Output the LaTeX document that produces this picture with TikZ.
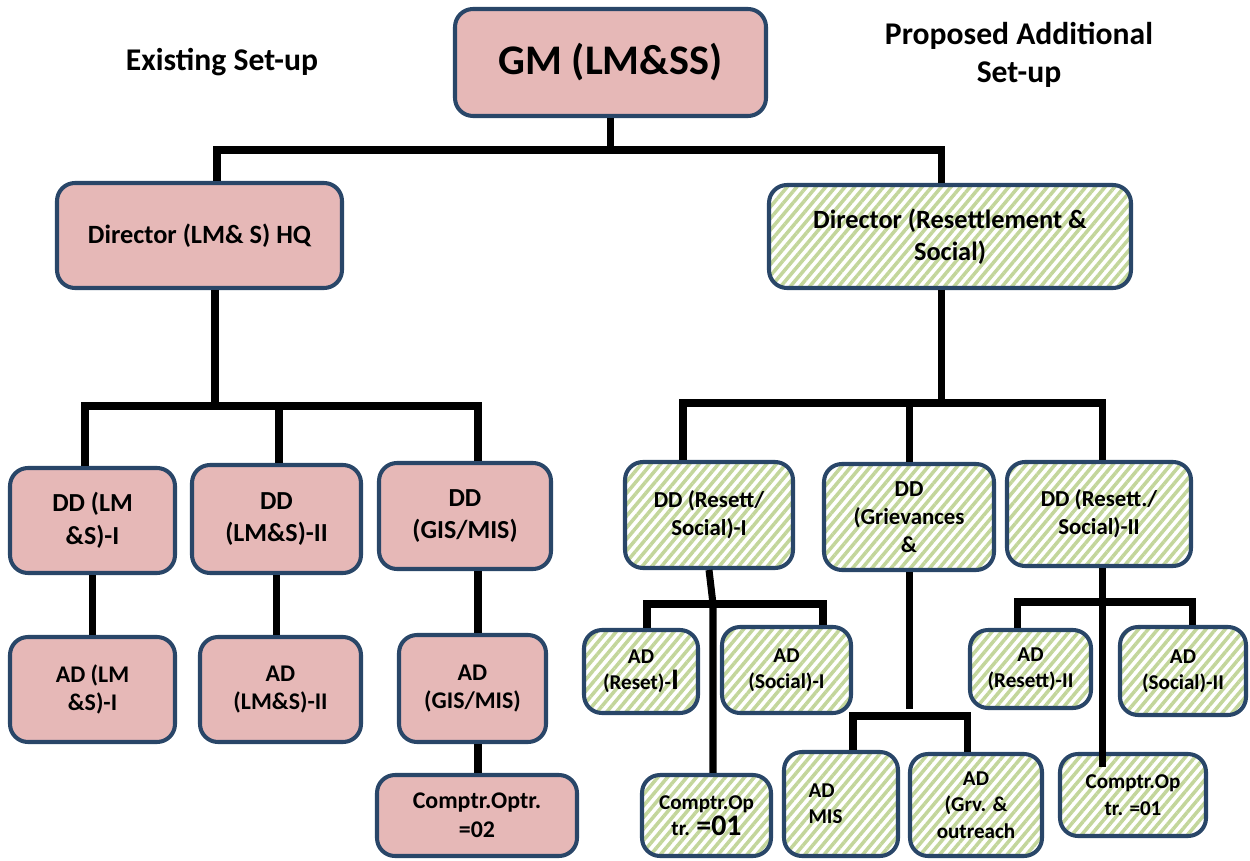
\documentclass[tikz,border=0pt]{standalone}
\usepackage{fontspec}
\setmainfont{Carlito}
\usetikzlibrary{patterns.meta}
\definecolor{boxblue}{HTML}{294668}
\definecolor{oldpink}{HTML}{E6B8B7}
\definecolor{stripegreen}{HTML}{C3D69B}
\tikzset{
  box/.style={draw=boxblue, line width=2.3pt, rounded corners=0.36cm, align=center, inner sep=1pt},
  old/.style={box, fill=oldpink},
  new/.style={box, preaction={fill=white}, pattern={Lines[angle=50,distance=4.2pt,line width=2pt]}, pattern color=stripegreen},
  sz/.style 2 args={minimum width=#1*0.02cm, minimum height=#2*0.02cm},
  conn/.style={line width=4pt},
  fgm/.style={font=\fontsize{24}{29}\selectfont\bfseries},
  fhead/.style={font=\fontsize{18}{21.5}\selectfont\bfseries, align=center},
  fdir/.style={font=\fontsize{15}{18}\selectfont\bfseries},
  fddl/.style={font=\fontsize{14.8}{18.7}\selectfont\bfseries},
  fadl/.style={font=\fontsize{13.6}{16.4}\selectfont\bfseries},
  fddr/.style={font=\fontsize{13}{16}\selectfont\bfseries},
  fadr/.style={font=\fontsize{12}{15}\selectfont\bfseries}
}
\begin{document}
\begin{tikzpicture}[x=0.02cm, y=-0.02cm]
  \useasboundingbox (0,0) rectangle (1250,861);
  %Titel
  \node[fhead] (exist) at (222,62) {Existing Set-up};
  \node[fhead] (prop) at (1019,55) {Proposed Additional\\Set-up};
  \node[old, fgm, sz={311}{107}] (gm) at (610.5,62.5) {GM (LM\&SS)};
  %Existing
  \node[old, fdir, sz={285}{105}] (dirL) at (199.5,235.5) {Director (LM\& S) HQ};
    \node[old, fddl, sz={165}{105}] (ddL1) at (92.5,520.5) {DD (LM\\\&S)-I};
    \node[old, fddl, sz={169}{108}] (ddL2) at (276.5,519) {DD\\(LM\&S)-II};
    \node[old, fddl, sz={172}{106}] (ddL3) at (465,516) {DD\\(GIS/MIS)};
    \node[old, fadl, sz={165}{105}] (adL1) at (92.5,689.5) {AD (LM\\\&S)-I};
    \node[old, fadl, sz={161}{105}] (adL2) at (280.5,689.5) {AD\\(LM\&S)-II};
    \node[old, fadl, sz={147}{107}] (adL3) at (472.5,688.5) {AD\\(GIS/MIS)};
    \node[old, fadl, sz={200}{81}] (cpL) at (477,815.5) {Comptr.Optr.\\=02};
  %Proposed
  \node[new, fdir, sz={362}{103}] (dirR) at (950,236.5) {Director (Resettlement \&\\Social)};
    \node[new, fddr, sz={168}{106}] (ddR1) at (709,515) {DD (Resett/\\Social)-I};
    \node[new, fddr, sz={170}{106}] (ddR2) at (909,517) {DD\\(Grievances\\\&};
    \node[new, fddr, sz={184}{104}] (ddR3) at (1099,514) {DD (Resett./\\Social)-II};
    \node[new, fadr, sz={114}{83}] (adR1) at (641,671.5) {AD\\(Reset)-{\fontsize{17}{15}\selectfont I}};
    \node[new, fadr, sz={129}{86}] (adR2) at (786.5,670) {AD\\(Social)-I};
    \node[new, fadr, sz={121}{78}] (adR3) at (1030.5,669) {AD\\(Resett)-II};
    \node[new, fadr, sz={126}{88}] (adR4) at (1183,671) {AD\\(Social)-II};
    \node[new, fadr, sz={129}{81}] (cpR1) at (706.5,815.5) {Comptr.Op\\tr. {\fontsize{17}{15}\selectfont =01}};
    \node[new, fadr, sz={114}{104}, text width=1.3cm, align=left] (adR5) at (841,804) {AD\\MIS};
    \node[new, fadr, sz={132}{102}] (adR6) at (976,805) {AD\\(Grv. \&\\outreach};
    \node[new, fadr, sz={146}{82}] (cpR2) at (1133,795) {Comptr.Op\\tr. =01};
  %Verbindungen oben
  \coordinate (tl) at (217,150);
  \coordinate (tr) at (941,150);
  \draw[conn] (gm.south) -- (gm.south |- tl);
  \draw[conn] (dirL.north -| tl) -- (tl) -- (tr) -- (tr |- dirR.north);
  %Links
  \coordinate (lc) at (215,406);
  \coordinate (ll) at (85,406);
  \coordinate (lm) at (279,406);
  \coordinate (lr) at (478,406);
  \draw[conn] (lc |- dirL.south) -- (lc);
  \draw[conn] (ll |- ddL1.north) -- (ll) -- (lr) -- (lr |- ddL3.north);
  \draw[conn] (lm) -- (lm |- ddL2.north);
  \draw[conn] (ddL1.south) -- (ddL1.south |- adL1.north);
  \draw[conn] (ddL2.south) -- (ddL2.south |- adL2.north);
  \draw[conn] (lr |- ddL3.south) -- (lr |- adL3.north);
  \draw[conn] (lr |- adL3.south) -- (lr |- cpL.north);
  %Rechts
  \coordinate (rc) at (941,403);
  \coordinate (rl) at (683,403);
  \coordinate (rm) at (909,403);
  \coordinate (rr) at (1102,403);
  \draw[conn] (rc |- dirR.south) -- (rc);
  \draw[conn] (rl |- ddR1.north) -- (rl) -- (rr) -- (rr |- ddR3.north);
  \draw[conn] (rm) -- (rm |- ddR2.north);
  %Unter DD (Resett/Social)-I
  \coordinate (j1) at (713,604);
  \coordinate (ja) at (647,604);
  \coordinate (jb) at (823,604);
  \draw[conn] (ddR1.south) -- (j1) -- (j1 |- cpR1.north);
  \draw[conn] (ja |- adR1.north) -- (ja) -- (jb) -- (jb |- adR2.north);
  %Unter DD Grievances
  \coordinate (g1) at (909,709);
  \coordinate (ga) at (853,716);
  \coordinate (gb) at (967,716);
  \draw[conn] (ddR2.south) -- (g1);
  \draw[conn] (ga |- adR5.north) -- (ga) -- (gb) -- (gb |- adR6.north);
  %Unter DD (Resett./Social)-II
  \coordinate (k1) at (1102,602);
  \coordinate (ka) at (1017,602);
  \coordinate (kb) at (1192,602);
  \coordinate (kend) at (1102,767);
  \draw[conn] (k1 |- ddR3.south) -- (kend);
  \draw[conn] (ka |- adR3.north) -- (ka) -- (kb) -- (kb |- adR4.north);
\end{tikzpicture}
\end{document}
